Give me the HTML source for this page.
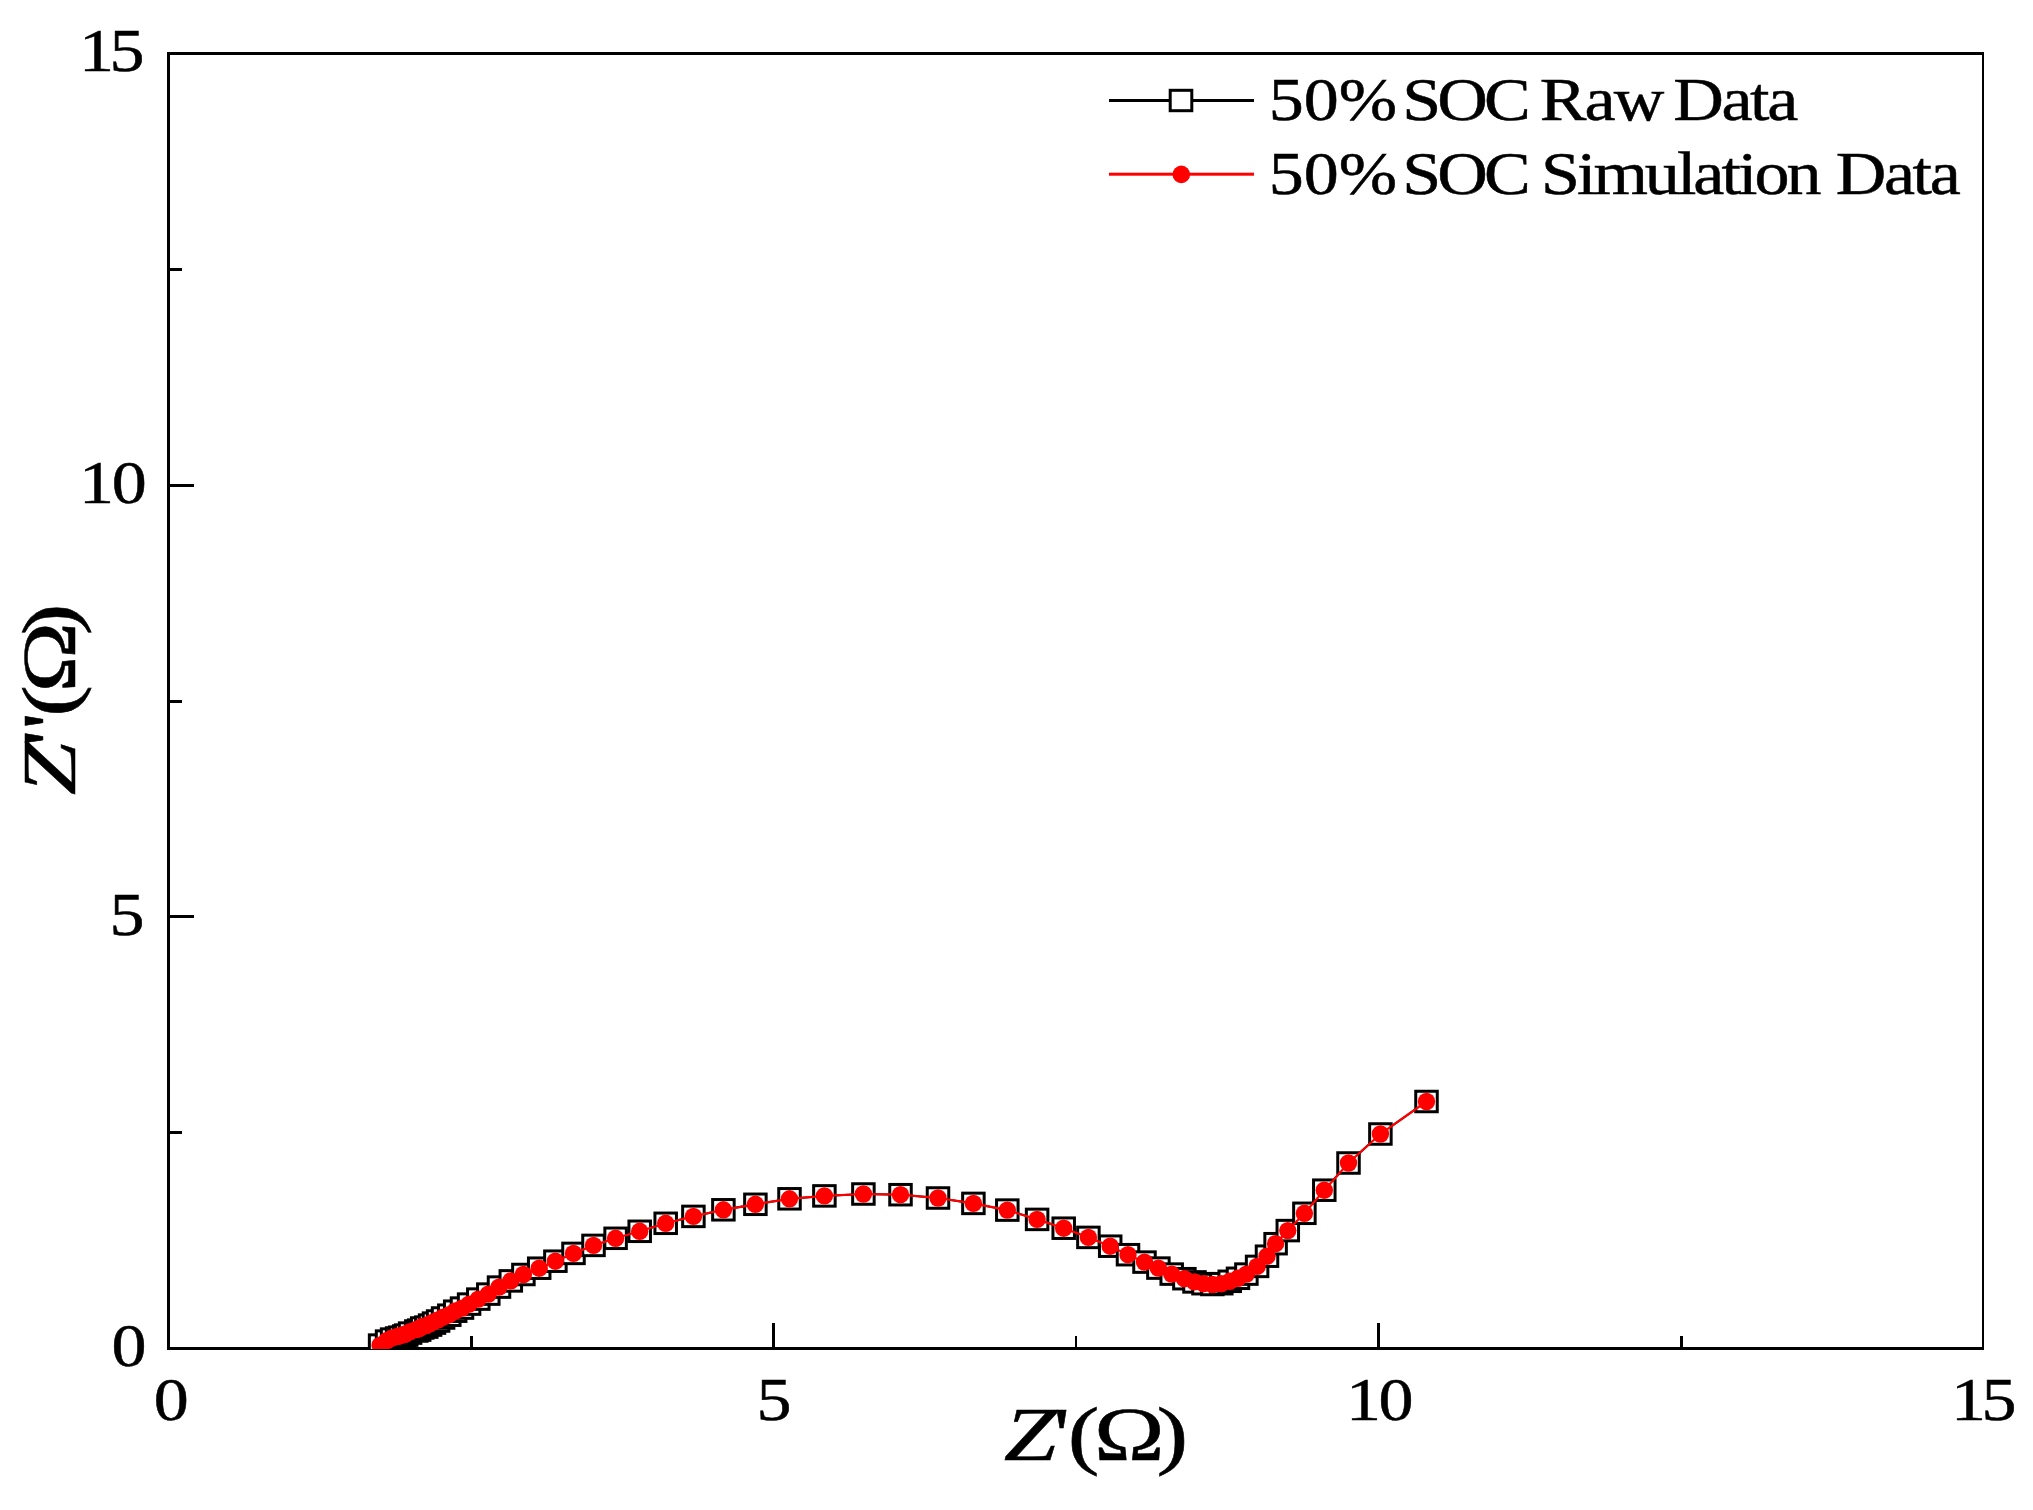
<!DOCTYPE html>
<html lang="en">
<head>
<meta charset="utf-8">
<title>Nyquist plot - 50% SOC</title>
<style>
html,body{margin:0;padding:0;background:#fff;}
body{width:2033px;height:1510px;overflow:hidden;}
svg{display:block;}
text{font-family:"Liberation Serif",serif;fill:#000;stroke:#000;stroke-width:0.5px;}
.tk{font-size:62px;}
.lg{font-size:62px;}
.ax{font-size:77px;}
.it{font-style:italic;}
</style>
</head>
<body>
<svg width="2033" height="1510" viewBox="0 0 2033 1510">
<rect x="0" y="0" width="2033" height="1510" fill="#ffffff"/>
<defs><clipPath id="plotclip"><rect x="167" y="52" width="1817" height="1297"/></clipPath></defs>
<g fill="#000">
<rect x="167" y="52" width="1817" height="3"/>
<rect x="167" y="1347" width="1817" height="3"/>
<rect x="167" y="52" width="3" height="1298"/>
<rect x="1982" y="52" width="2" height="1298"/>
<rect x="772" y="1323" width="3" height="25"/>
<rect x="169" y="915" width="25" height="3"/>
<rect x="1377" y="1323" width="3" height="25"/>
<rect x="169" y="484" width="25" height="3"/>
<rect x="470" y="1336" width="3" height="12"/>
<rect x="169" y="1131" width="13" height="3"/>
<rect x="1075" y="1336" width="2" height="12"/>
<rect x="169" y="700" width="13" height="3"/>
<rect x="1680" y="1336" width="3" height="12"/>
<rect x="169" y="268" width="13" height="3"/>
</g>
<g clip-path="url(#plotclip)">
<path d="M380.1,1345.1 L387.1,1341.1 L392.1,1339.1 L397.1,1338.0 L400.2,1337.2 L404.2,1336.0 L406.2,1335.1 L410.1,1333.1 L416.3,1331.0 L419.2,1330.1 L422.2,1328.0 L426.3,1327.1 L430.1,1325.1 L434.0,1323.1 L438.1,1321.0 L443.1,1318.0 L449.3,1315.2 L455.2,1311.2 L462.0,1308.1 L469.1,1304.1 L478.3,1299.1 L488.3,1294.1 L499.0,1287.1 L510.8,1280.9 L523.4,1274.5 L539.2,1268.2 L555.4,1261.2 L573.5,1253.4 L593.5,1245.4 L615.6,1238.3 L639.7,1231.3 L665.7,1223.3 L693.4,1216.4 L723.4,1209.8 L755.4,1204.3 L789.5,1198.8 L824.4,1195.9 L863.4,1194.0 L900.5,1194.7 L938.0,1198.0 L973.4,1203.4 L1007.3,1210.1 L1037.1,1219.4 L1063.7,1228.2 L1088.4,1237.4 L1110.2,1246.2 L1128.0,1254.7 L1144.5,1262.1 L1158.4,1268.1 L1171.7,1274.1 L1184.4,1278.7 L1194.5,1281.9 L1203.5,1283.7 L1212.4,1284.5 L1221.3,1283.7 L1229.7,1281.3 L1238.0,1278.3 L1246.4,1274.1 L1257.1,1266.4 L1267.0,1256.2 L1275.6,1243.7 L1287.8,1230.6 L1304.4,1213.3 L1324.3,1190.2 L1348.5,1163.0 L1380.4,1134.0 L1426.5,1101.5" fill="none" stroke="#000" stroke-width="2"/>
<g fill="#fff" stroke="#000" stroke-width="3">
<rect x="369.35" y="1334.85" width="21.5" height="20.5"/>
<rect x="376.30" y="1330.85" width="21.5" height="20.5"/>
<rect x="381.35" y="1328.85" width="21.5" height="20.5"/>
<rect x="386.35" y="1327.75" width="21.5" height="20.5"/>
<rect x="389.45" y="1326.95" width="21.5" height="20.5"/>
<rect x="393.45" y="1325.75" width="21.5" height="20.5"/>
<rect x="395.45" y="1324.85" width="21.5" height="20.5"/>
<rect x="399.35" y="1322.85" width="21.5" height="20.5"/>
<rect x="405.55" y="1320.75" width="21.5" height="20.5"/>
<rect x="408.45" y="1319.85" width="21.5" height="20.5"/>
<rect x="411.45" y="1317.75" width="21.5" height="20.5"/>
<rect x="415.55" y="1316.85" width="21.5" height="20.5"/>
<rect x="419.35" y="1314.85" width="21.5" height="20.5"/>
<rect x="423.25" y="1312.85" width="21.5" height="20.5"/>
<rect x="427.35" y="1310.75" width="21.5" height="20.5"/>
<rect x="432.35" y="1307.75" width="21.5" height="20.5"/>
<rect x="438.55" y="1304.95" width="21.5" height="20.5"/>
<rect x="444.45" y="1300.95" width="21.5" height="20.5"/>
<rect x="451.25" y="1297.85" width="21.5" height="20.5"/>
<rect x="458.35" y="1293.85" width="21.5" height="20.5"/>
<rect x="467.55" y="1288.85" width="21.5" height="20.5"/>
<rect x="477.55" y="1283.85" width="21.5" height="20.5"/>
<rect x="488.25" y="1276.85" width="21.5" height="20.5"/>
<rect x="500.05" y="1270.65" width="21.5" height="20.5"/>
<rect x="512.65" y="1264.25" width="21.5" height="20.5"/>
<rect x="528.45" y="1257.95" width="21.5" height="20.5"/>
<rect x="544.65" y="1250.95" width="21.5" height="20.5"/>
<rect x="562.75" y="1243.15" width="21.5" height="20.5"/>
<rect x="582.75" y="1235.15" width="21.5" height="20.5"/>
<rect x="604.85" y="1228.05" width="21.5" height="20.5"/>
<rect x="628.95" y="1221.05" width="21.5" height="20.5"/>
<rect x="654.95" y="1213.05" width="21.5" height="20.5"/>
<rect x="682.65" y="1206.15" width="21.5" height="20.5"/>
<rect x="712.65" y="1199.55" width="21.5" height="20.5"/>
<rect x="744.65" y="1194.05" width="21.5" height="20.5"/>
<rect x="778.75" y="1188.55" width="21.5" height="20.5"/>
<rect x="813.65" y="1185.65" width="21.5" height="20.5"/>
<rect x="852.65" y="1183.75" width="21.5" height="20.5"/>
<rect x="889.75" y="1184.45" width="21.5" height="20.5"/>
<rect x="927.25" y="1187.75" width="21.5" height="20.5"/>
<rect x="962.65" y="1193.15" width="21.5" height="20.5"/>
<rect x="996.55" y="1199.85" width="21.5" height="20.5"/>
<rect x="1026.35" y="1209.15" width="21.5" height="20.5"/>
<rect x="1052.95" y="1217.95" width="21.5" height="20.5"/>
<rect x="1077.65" y="1227.15" width="21.5" height="20.5"/>
<rect x="1099.45" y="1235.95" width="21.5" height="20.5"/>
<rect x="1117.25" y="1244.45" width="21.5" height="20.5"/>
<rect x="1133.75" y="1251.85" width="21.5" height="20.5"/>
<rect x="1147.65" y="1257.85" width="21.5" height="20.5"/>
<rect x="1160.95" y="1263.85" width="21.5" height="20.5"/>
<rect x="1173.65" y="1268.45" width="21.5" height="20.5"/>
<rect x="1183.75" y="1271.65" width="21.5" height="20.5"/>
<rect x="1192.75" y="1273.45" width="21.5" height="20.5"/>
<rect x="1201.65" y="1274.25" width="21.5" height="20.5"/>
<rect x="1210.55" y="1273.45" width="21.5" height="20.5"/>
<rect x="1218.95" y="1271.05" width="21.5" height="20.5"/>
<rect x="1227.25" y="1268.05" width="21.5" height="20.5"/>
<rect x="1235.65" y="1263.85" width="21.5" height="20.5"/>
<rect x="1246.35" y="1256.15" width="21.5" height="20.5"/>
<rect x="1256.25" y="1245.95" width="21.5" height="20.5"/>
<rect x="1264.85" y="1233.45" width="21.5" height="20.5"/>
<rect x="1277.05" y="1220.35" width="21.5" height="20.5"/>
<rect x="1293.65" y="1203.05" width="21.5" height="20.5"/>
<rect x="1313.55" y="1179.95" width="21.5" height="20.5"/>
<rect x="1337.75" y="1152.75" width="21.5" height="20.5"/>
<rect x="1369.65" y="1123.75" width="21.5" height="20.5"/>
<rect x="1415.75" y="1091.25" width="21.5" height="20.5"/>
</g>
<path d="M380.1,1345.1 L387.1,1341.1 L392.1,1339.1 L397.1,1338.0 L400.2,1337.2 L404.2,1336.0 L406.2,1335.1 L410.1,1333.1 L416.3,1331.0 L419.2,1330.1 L422.2,1328.0 L426.3,1327.1 L430.1,1325.1 L434.0,1323.1 L438.1,1321.0 L443.1,1318.0 L449.3,1315.2 L455.2,1311.2 L462.0,1308.1 L469.1,1304.1 L478.3,1299.1 L488.3,1294.1 L499.0,1287.1 L510.8,1280.9 L523.4,1274.5 L539.2,1268.2 L555.4,1261.2 L573.5,1253.4 L593.5,1245.4 L615.6,1238.3 L639.7,1231.3 L665.7,1223.3 L693.4,1216.4 L723.4,1209.8 L755.4,1204.3 L789.5,1198.8 L824.4,1195.9 L863.4,1194.0 L900.5,1194.7 L938.0,1198.0 L973.4,1203.4 L1007.3,1210.1 L1037.1,1219.4 L1063.7,1228.2 L1088.4,1237.4 L1110.2,1246.2 L1128.0,1254.7 L1144.5,1262.1 L1158.4,1268.1 L1171.7,1274.1 L1184.4,1278.7 L1194.5,1281.9 L1203.5,1283.7 L1212.4,1284.5 L1221.3,1283.7 L1229.7,1281.3 L1238.0,1278.3 L1246.4,1274.1 L1257.1,1266.4 L1267.0,1256.2 L1275.6,1243.7 L1287.8,1230.6 L1304.4,1213.3 L1324.3,1190.2 L1348.5,1163.0 L1380.4,1134.0 L1426.5,1101.5" fill="none" stroke="#ff0000" stroke-width="2.2"/>
<g fill="#ff0000">
<circle cx="380.1" cy="1345.1" r="8.7"/>
<circle cx="387.1" cy="1340.5" r="8.7"/>
<circle cx="392.1" cy="1337.9" r="8.7"/>
<circle cx="397.1" cy="1336.5" r="8.7"/>
<circle cx="400.2" cy="1335.7" r="8.7"/>
<circle cx="404.2" cy="1334.5" r="8.7"/>
<circle cx="406.2" cy="1333.6" r="8.7"/>
<circle cx="410.1" cy="1331.6" r="8.7"/>
<circle cx="416.3" cy="1329.5" r="8.7"/>
<circle cx="419.2" cy="1328.6" r="8.7"/>
<circle cx="422.2" cy="1326.5" r="8.7"/>
<circle cx="426.3" cy="1325.6" r="8.7"/>
<circle cx="430.1" cy="1323.6" r="8.7"/>
<circle cx="434.0" cy="1321.7" r="8.7"/>
<circle cx="438.1" cy="1319.9" r="8.7"/>
<circle cx="443.1" cy="1317.1" r="8.7"/>
<circle cx="449.3" cy="1314.7" r="8.7"/>
<circle cx="455.2" cy="1311.0" r="8.7"/>
<circle cx="462.0" cy="1308.1" r="8.7"/>
<circle cx="469.1" cy="1304.1" r="8.7"/>
<circle cx="478.3" cy="1299.1" r="8.7"/>
<circle cx="488.3" cy="1294.1" r="8.7"/>
<circle cx="499.0" cy="1287.1" r="8.7"/>
<circle cx="510.8" cy="1280.9" r="8.7"/>
<circle cx="523.4" cy="1274.5" r="8.7"/>
<circle cx="539.2" cy="1268.2" r="8.7"/>
<circle cx="555.4" cy="1261.2" r="8.7"/>
<circle cx="573.5" cy="1253.4" r="8.7"/>
<circle cx="593.5" cy="1245.4" r="8.7"/>
<circle cx="615.6" cy="1238.3" r="8.7"/>
<circle cx="639.7" cy="1231.3" r="8.7"/>
<circle cx="665.7" cy="1223.3" r="8.7"/>
<circle cx="693.4" cy="1216.4" r="8.7"/>
<circle cx="723.4" cy="1209.8" r="8.7"/>
<circle cx="755.4" cy="1204.3" r="8.7"/>
<circle cx="789.5" cy="1198.8" r="8.7"/>
<circle cx="824.4" cy="1195.9" r="8.7"/>
<circle cx="863.4" cy="1194.0" r="8.7"/>
<circle cx="900.5" cy="1194.7" r="8.7"/>
<circle cx="938.0" cy="1198.0" r="8.7"/>
<circle cx="973.4" cy="1203.4" r="8.7"/>
<circle cx="1007.3" cy="1210.1" r="8.7"/>
<circle cx="1037.1" cy="1219.4" r="8.7"/>
<circle cx="1063.7" cy="1228.2" r="8.7"/>
<circle cx="1088.4" cy="1237.4" r="8.7"/>
<circle cx="1110.2" cy="1246.2" r="8.7"/>
<circle cx="1128.0" cy="1254.7" r="8.7"/>
<circle cx="1144.5" cy="1262.1" r="8.7"/>
<circle cx="1158.4" cy="1268.1" r="8.7"/>
<circle cx="1171.7" cy="1274.1" r="8.7"/>
<circle cx="1184.4" cy="1278.7" r="8.7"/>
<circle cx="1194.5" cy="1281.9" r="8.7"/>
<circle cx="1203.5" cy="1283.7" r="8.7"/>
<circle cx="1212.4" cy="1284.5" r="8.7"/>
<circle cx="1221.3" cy="1283.7" r="8.7"/>
<circle cx="1229.7" cy="1281.3" r="8.7"/>
<circle cx="1238.0" cy="1278.3" r="8.7"/>
<circle cx="1246.4" cy="1274.1" r="8.7"/>
<circle cx="1257.1" cy="1266.4" r="8.7"/>
<circle cx="1267.0" cy="1256.2" r="8.7"/>
<circle cx="1275.6" cy="1243.7" r="8.7"/>
<circle cx="1287.8" cy="1230.6" r="8.7"/>
<circle cx="1304.4" cy="1213.3" r="8.7"/>
<circle cx="1324.3" cy="1190.2" r="8.7"/>
<circle cx="1348.5" cy="1163.0" r="8.7"/>
<circle cx="1380.4" cy="1134.0" r="8.7"/>
<circle cx="1426.5" cy="1101.5" r="8.7"/>
</g>
</g>
<text class="tk" transform="scale(1.13,1)" x="69.86 96.96" y="70.6">15</text>
<text class="tk" transform="scale(1.13,1)" x="69.86 98.83" y="503.0">10</text>
<text class="tk" transform="scale(1.13,1)" x="96.87" y="934.7">5</text>
<text class="tk" transform="scale(1.13,1)" x="98.74" y="1366.1">0</text>
<text class="tk" transform="scale(1.13,1)" x="136.00" y="1420.4">0</text>
<text class="tk" transform="scale(1.13,1)" x="669.44" y="1420.4">5</text>
<text class="tk" transform="scale(1.13,1)" x="1191.18 1219.89" y="1420.4">10</text>
<text class="tk" transform="scale(1.13,1)" x="1726.49 1753.51" y="1420.4">15</text>
<rect x="1109" y="99" width="145" height="3" fill="#000"/>
<rect x="1170.2" y="90.3" width="21.6" height="20.4" fill="#fff" stroke="#000" stroke-width="3"/>
<rect x="1109" y="172.7" width="145" height="3" fill="#ff0000"/>
<circle cx="1181.3" cy="174.4" r="8.8" fill="#ff0000"/>
<text class="lg" transform="scale(1.13,1)" y="120.5"><tspan x="1122.71">50%</tspan> <tspan x="1240.94" letter-spacing="-3.5">SOC</tspan> <tspan x="1362.55" letter-spacing="-1.7">Raw</tspan> <tspan x="1480.69" letter-spacing="-2.1">Data</tspan></text>
<text class="lg" transform="scale(1.13,1)" y="194.4"><tspan x="1122.71">50%</tspan> <tspan x="1240.94" letter-spacing="-3.5">SOC</tspan> <tspan x="1363.68" letter-spacing="-2.65">Simulation</tspan> <tspan x="1624.49" letter-spacing="-2.1">Data</tspan></text>
<text class="ax" transform="translate(1003.75,1459.6) scale(1.235,1)" x="0 39.8 51.9 73 123.6" y="0"><tspan class="it">Z</tspan>'(Ω)</text>
<text class="ax" transform="translate(74.8,795.25) rotate(-90) scale(1.235,1)" x="0 39.3 53.2 63.5 83.1 129.6" y="0"><tspan class="it">Z</tspan>''(Ω)</text>
</svg>
</body>
</html>
